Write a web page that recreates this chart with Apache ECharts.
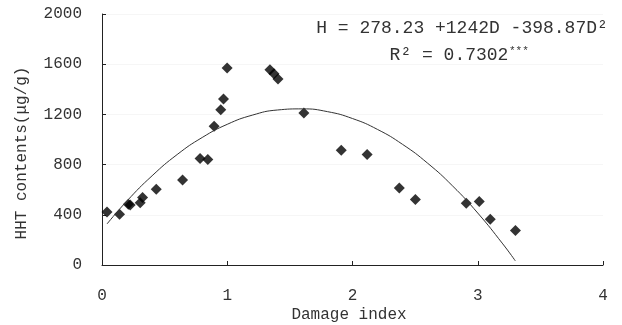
<!DOCTYPE html>
<html>
<head>
<meta charset="utf-8">
<script src="https://cdn.jsdelivr.net/npm/echarts@6/dist/echarts.min.js"></script>
<style>html,body{margin:0;padding:0;background:#fff;}#c{width:622px;height:325px;}</style>
</head>
<body>
<div id="c"></div>
<script>
// Observed points: damage index (x) and HHT content (y)
const damageIndex = [0.04, 0.14, 0.21, 0.225, 0.305, 0.324, 0.433, 0.643, 0.783, 0.845, 0.895, 0.948, 0.97, 0.999, 1.341, 1.373, 1.405, 1.612, 1.91, 2.117, 2.374, 2.502, 2.908, 3.012, 3.1, 3.301];
const hhtContent  = [423, 405, 484, 479, 497, 537, 603, 677, 849, 841, 1106, 1238, 1323, 1569, 1556, 1524, 1482, 1212, 915, 881, 614, 521, 492, 505, 365, 275];
// Fitted curve
const curveX = [0.04, 0.2, 0.4, 0.6, 0.8, 1.0, 1.2, 1.4, 1.6, 1.8, 2.0, 2.2, 2.4, 2.6, 2.8, 3.0, 3.2, 3.3];
const curveY = [327, 511, 711, 880, 1016, 1121, 1194, 1235, 1244, 1222, 1167, 1080, 961, 811, 629, 414, 168, 33];
const xTicks = [0, 1, 2, 3, 4];
const yTicks = [0, 400, 800, 1200, 1600, 2000];
const equationText = 'H = 278.23 +1242D -398.87D²';
const r2Text = 'R² = 0.7302';

const FONT = '"Liberation Mono", "DejaVu Sans Mono", monospace';
const TXT = '#333';
const chart = echarts.init(document.getElementById('c'), null, {renderer: 'canvas'});
chart.setOption({
  animation: false,
  backgroundColor: '#fff',
  grid: {left: 102, right: 19, top: 14, bottom: 60, containLabel: false},
  xAxis: {
    type: 'value', min: xTicks[0], max: xTicks[xTicks.length - 1], interval: 1,
    axisLine: {lineStyle: {color: '#222', width: 1}},
    axisTick: {inside: true, length: 4, lineStyle: {color: '#222'}},
    axisLabel: {margin: 23, color: TXT, fontFamily: FONT, fontSize: 16, formatter: v => String(v)},
    splitLine: {show: false}
  },
  yAxis: {
    type: 'value', min: yTicks[0], max: yTicks[yTicks.length - 1], interval: 400,
    axisLine: {show: true, lineStyle: {color: '#222', width: 1}},
    axisTick: {show: true, inside: true, length: 4, lineStyle: {color: '#222'}},
    axisLabel: {margin: 20, color: TXT, fontFamily: FONT, fontSize: 16, formatter: v => String(v)},
    splitLine: {show: true, lineStyle: {color: '#f6f6f6', width: 1}}
  },
  graphic: [
    {type: 'text', position: [349, 315], style: {text: 'Damage index', font: '16px ' + FONT, fill: TXT, textAlign: 'center', textVerticalAlign: 'middle'}},
    {type: 'text', rotation: Math.PI / 2, position: [22, 153], style: {text: 'HHT contents(μg/g)', font: '16px ' + FONT, fill: TXT, textAlign: 'center', textVerticalAlign: 'middle'}},
    {type: 'text', position: [462, 28], style: {text: equationText, font: '18px ' + FONT, fill: TXT, textAlign: 'center', textVerticalAlign: 'middle'}},
    {type: 'text', position: [449, 55], style: {text: r2Text, font: '18px ' + FONT, fill: TXT, textAlign: 'center', textVerticalAlign: 'middle'}},
    {type: 'text', position: [509, 51], style: {text: '***', font: '11px ' + FONT, fill: TXT, textAlign: 'left', textVerticalAlign: 'middle'}}
  ],
  series: [
    {
      type: 'line', smooth: true, showSymbol: false, silent: true,
      data: curveX.map((x, i) => [x, curveY[i]]),
      lineStyle: {color: '#333', width: 1}
    },
    {
      type: 'scatter', symbol: 'diamond', symbolSize: 11,
      data: damageIndex.map((x, i) => [x, hhtContent[i]]),
      itemStyle: {color: '#000'}
    }
  ]
});
</script>
</body>
</html>
